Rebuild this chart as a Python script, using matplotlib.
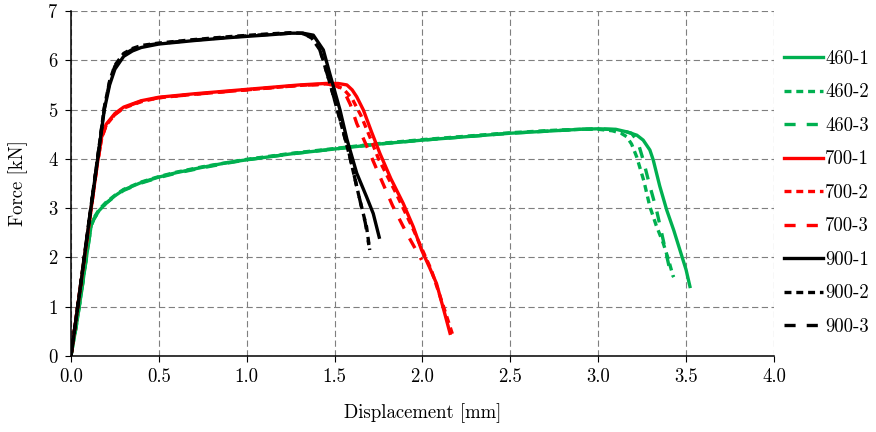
import matplotlib
matplotlib.use("Agg")
import matplotlib.pyplot as plt
from matplotlib.ticker import FormatStrFormatter, MultipleLocator

plt.rcParams["font.family"] = ["cmr10", "DejaVu Serif"]
plt.rcParams["axes.formatter.use_mathtext"] = True
plt.rcParams["lines.scale_dashes"] = False

GREEN = "#00b050"
RED = "#ff0000"
BLACK = "#000000"

# 460 series
x_460_1 = [0, 0.03, 0.06, 0.09, 0.115, 0.13, 0.16, 0.2, 0.25, 0.3, 0.4, 0.5, 0.6, 0.75,
           0.9, 1.0, 1.25, 1.5, 1.75, 2.0, 2.25, 2.5, 2.75, 2.9, 3.0, 3.1, 3.16, 3.22,
           3.256, 3.294, 3.313, 3.35, 3.39, 3.43, 3.465, 3.5, 3.522]
y_460_1 = [0, 0.6, 1.3, 2.05, 2.65, 2.78, 2.95, 3.1, 3.25, 3.37, 3.52, 3.63, 3.72, 3.83,
           3.93, 3.98, 4.1, 4.2, 4.3, 4.38, 4.45, 4.52, 4.57, 4.6, 4.61, 4.6, 4.55, 4.48,
           4.38, 4.18, 3.98, 3.45, 2.96, 2.55, 2.15, 1.75, 1.41]
x_460_2 = [0, 0.03, 0.06, 0.09, 0.115, 0.13, 0.16, 0.2, 0.25, 0.3, 0.4, 0.5, 0.6, 0.75,
           0.9, 1.0, 1.25, 1.5, 1.75, 2.0, 2.25, 2.5, 2.75, 2.9, 3.0, 3.08, 3.13, 3.162,
           3.19, 3.219, 3.26, 3.294, 3.33, 3.37, 3.40, 3.427]
y_460_2 = [0, 0.62, 1.32, 2.07, 2.66, 2.8, 2.97, 3.12, 3.26, 3.38, 3.53, 3.64, 3.73, 3.84,
           3.93, 3.99, 4.11, 4.21, 4.31, 4.39, 4.46, 4.53, 4.58, 4.6, 4.6, 4.57, 4.52, 4.45,
           4.3, 4.04, 3.55, 3.03, 2.65, 2.29, 1.95, 1.61]
x_460_3 = [0, 0.03, 0.06, 0.09, 0.115, 0.13, 0.16, 0.2, 0.25, 0.3, 0.4, 0.5, 0.6, 0.75,
           0.9, 1.0, 1.25, 1.5, 1.75, 2.0, 2.25, 2.5, 2.75, 2.9, 3.0, 3.1, 3.15, 3.19,
           3.225, 3.256, 3.29, 3.332, 3.37, 3.408, 3.43]
y_460_3 = [0, 0.6, 1.3, 2.04, 2.64, 2.77, 2.95, 3.1, 3.24, 3.36, 3.51, 3.62, 3.71, 3.82,
           3.92, 3.98, 4.1, 4.2, 4.3, 4.38, 4.45, 4.52, 4.57, 4.6, 4.61, 4.59, 4.56, 4.52,
           4.35, 3.98, 3.5, 2.96, 2.35, 1.74, 1.6]

# 700 series
x_700_1 = [0, 0.05, 0.1, 0.15, 0.175, 0.2, 0.25, 0.3, 0.4, 0.5, 0.7, 0.9, 1.1, 1.3, 1.45,
           1.52, 1.57, 1.6, 1.626, 1.664, 1.71, 1.758, 1.82, 1.89, 1.948, 1.995, 2.04,
           2.08, 2.12, 2.157]
y_700_1 = [0, 1.3, 2.6, 3.9, 4.45, 4.7, 4.92, 5.05, 5.18, 5.25, 5.32, 5.38, 5.44, 5.5,
           5.53, 5.53, 5.5, 5.4, 5.26, 4.99, 4.55, 4.11, 3.6, 3.1, 2.62, 2.15, 1.8,
           1.47, 0.95, 0.46]
x_700_2 = [0, 0.05, 0.1, 0.15, 0.175, 0.2, 0.25, 0.3, 0.4, 0.5, 0.7, 0.9, 1.1, 1.3, 1.45,
           1.5, 1.55, 1.6, 1.65, 1.7, 1.75, 1.85, 1.95, 2.05, 2.12, 2.17]
y_700_2 = [0, 1.32, 2.62, 3.92, 4.42, 4.68, 4.9, 5.03, 5.16, 5.24, 5.31, 5.37, 5.43, 5.49,
           5.52, 5.5, 5.42, 5.22, 4.88, 4.45, 4.0, 3.3, 2.55, 1.75, 1.0, 0.45]
x_700_3 = [0, 0.05, 0.1, 0.15, 0.175, 0.2, 0.25, 0.3, 0.4, 0.5, 0.7, 0.9, 1.1, 1.3, 1.45,
           1.5, 1.55, 1.59, 1.626, 1.69, 1.758, 1.83, 1.91, 1.995]
y_700_3 = [0, 1.3, 2.6, 3.9, 4.43, 4.68, 4.9, 5.04, 5.17, 5.24, 5.31, 5.37, 5.43, 5.49,
           5.51, 5.5, 5.4, 5.1, 4.72, 4.2, 3.64, 3.05, 2.49, 1.95]

# 900 series
x_900_1 = [0, 0.05, 0.1, 0.15, 0.19, 0.22, 0.25, 0.3, 0.35, 0.4, 0.5, 0.7, 0.9, 1.1, 1.25,
           1.32, 1.379, 1.436, 1.475, 1.531, 1.57, 1.626, 1.682, 1.72, 1.754]
y_900_1 = [0, 1.3, 2.65, 3.95, 5.0, 5.5, 5.82, 6.08, 6.19, 6.26, 6.33, 6.4, 6.46, 6.51, 6.55,
           6.55, 6.51, 6.21, 5.7, 4.99, 4.4, 3.71, 3.23, 2.89, 2.41]
x_900_2 = [0, 0.05, 0.1, 0.15, 0.19, 0.22, 0.25, 0.3, 0.35, 0.4, 0.5, 0.7, 0.9, 1.1, 1.25,
           1.32, 1.37, 1.417, 1.474, 1.531, 1.587, 1.644, 1.682, 1.70]
y_900_2 = [0, 1.32, 2.67, 3.98, 5.05, 5.58, 5.9, 6.14, 6.24, 6.3, 6.35, 6.42, 6.48, 6.53, 6.56,
           6.55, 6.45, 6.21, 5.53, 4.79, 4.04, 3.16, 2.62, 2.15]
x_900_3 = [0, 0.05, 0.1, 0.15, 0.19, 0.22, 0.25, 0.3, 0.35, 0.4, 0.5, 0.7, 0.9, 1.1, 1.25,
           1.32, 1.37, 1.41, 1.46, 1.52, 1.58, 1.635, 1.675, 1.695]
y_900_3 = [0, 1.31, 2.66, 3.97, 5.03, 5.56, 5.88, 6.12, 6.22, 6.29, 6.34, 6.41, 6.47, 6.52, 6.55,
           6.54, 6.47, 6.28, 5.7, 4.95, 4.15, 3.3, 2.7, 2.25]

series = [
    ("460-1", x_460_1, y_460_1, GREEN, "solid"),
    ("460-2", x_460_2, y_460_2, GREEN, "short"),
    ("460-3", x_460_3, y_460_3, GREEN, "long"),
    ("700-1", x_700_1, y_700_1, RED, "solid"),
    ("700-2", x_700_2, y_700_2, RED, "short"),
    ("700-3", x_700_3, y_700_3, RED, "long"),
    ("900-1", x_900_1, y_900_1, BLACK, "solid"),
    ("900-2", x_900_2, y_900_2, BLACK, "short"),
    ("900-3", x_900_3, y_900_3, BLACK, "long"),
]
dash_styles = {"solid": "-", "short": (0, (5, 3.5)), "long": (0, (8, 8))}

fig = plt.figure(figsize=(8.76, 4.32), dpi=100)
ax = fig.add_axes([0.081, 0.176, 0.8025, 0.7985])

for label, xs, ys, color, style in series:
    ax.plot(xs, ys, color=color, linestyle=dash_styles[style], linewidth=2.4, label=label)

ax.set_xlim(0, 4.0)
ax.set_ylim(0, 7)
ax.xaxis.set_major_locator(MultipleLocator(0.5))
ax.yaxis.set_major_locator(MultipleLocator(1))
ax.xaxis.set_major_formatter(FormatStrFormatter("%.1f"))
ax.grid(True, color="#7f7f7f", linestyle=(0, (4.5, 2.5)), linewidth=0.8)
ax.set_axisbelow(True)
for side in ("top", "right"):
    ax.spines[side].set_visible(False)
for side in ("left", "bottom"):
    ax.spines[side].set_linewidth(1.1)
ax.tick_params(direction="out", length=4, width=0.8, labelsize=13.5, pad=5)

ax.set_xlabel("Displacement [mm]", fontsize=13.5, labelpad=12)
ax.set_ylabel("Force [kN]", fontsize=13.5, labelpad=14)

ax.legend(loc="center left", bbox_to_anchor=(1.014, 0.473), frameon=False, fontsize=13.5,
          handlelength=2.1, handletextpad=0.1, labelspacing=0.83, borderpad=0,
          borderaxespad=0)

fig.savefig("out.png", dpi=100)
